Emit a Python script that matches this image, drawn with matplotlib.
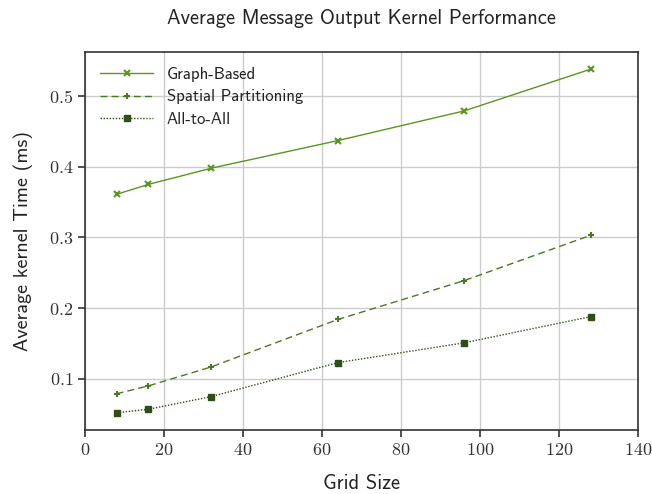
import matplotlib
matplotlib.use("Agg")
import matplotlib.pyplot as plt

grid_sizes = [8, 16, 32, 64, 96, 128]
graph_based = [0.361, 0.375, 0.398, 0.437, 0.479, 0.538]
spatial = [0.079, 0.090, 0.117, 0.184, 0.239, 0.303]
all_to_all = [0.052, 0.057, 0.075, 0.123, 0.151, 0.188]
x_ticks = [0, 20, 40, 60, 80, 100, 120, 140]
y_ticks = [0.1, 0.2, 0.3, 0.4, 0.5]

plt.rcParams['axes.formatter.use_mathtext'] = True
sans = ['cmss10', 'DejaVu Sans']
serif = ['cmr10', 'DejaVu Serif']

fig = plt.figure(figsize=(6.52, 4.94), dpi=100)
ax = fig.add_axes([85/652, 1-430/494, (638-85)/652, (430-52)/494])

c1, c2, c3 = '#5a9621', '#4a7a22', '#2e4f16'
ax.plot(grid_sizes, graph_based, color=c1, lw=1.0, ls='-', marker='x', ms=4, mew=1.5, label='Graph-Based')
ax.plot(grid_sizes, spatial, color=c2, lw=1.0, ls=(0, (5, 3)), marker='+', ms=5, mew=1.5, label='Spatial Partitioning')
ax.plot(grid_sizes, all_to_all, color=c3, lw=1.0, ls=(0, (1, 1.2)), marker='s', ms=5, label='All-to-All')

ax.set_xlim(0, 140)
ax.set_xticks(x_ticks)
ax.set_yticks(y_ticks)
ax.grid(True, color='#cccccc', lw=1.0)
ax.set_axisbelow(True)
for s in ax.spines.values():
    s.set_color('#333333')
    s.set_linewidth(1.2)
ax.tick_params(direction='out', length=5, width=1.2, color='#333333', labelsize=13, labelcolor='#333333')
for lbl in ax.get_xticklabels() + ax.get_yticklabels():
    lbl.set_family(serif)

ax.set_xlabel('Grid Size', family=sans, fontsize=14.7, color='#222222', labelpad=12)
ax.set_ylabel('Average kernel Time (ms)', family=sans, fontsize=14.5, color='#222222', labelpad=11)
ax.set_title('Average Message Output Kernel Performance', family=sans, fontsize=14.7, color='#222222', pad=20)
leg = ax.legend(loc='upper left', frameon=False, prop={'family': sans, 'size': 12}, handlelength=3.2,
                labelspacing=0.45)
for t in leg.get_texts():
    t.set_color('#222222')

fig.savefig('out.png', dpi=100)
